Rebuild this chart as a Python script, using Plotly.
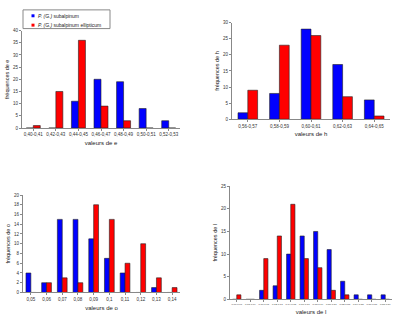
import plotly.graph_objects as go

# Chart e
cat_e = ["0,40-0,41","0,42-0,43","0,44-0,45","0,46-0,47","0,48-0,49","0,50-0,51","0,52-0,53"]
sub_e = [0, 0, 11, 20, 19, 8, 3]
ell_e = [1, 15, 36, 9, 3, 0, 0]
# Chart h
cat_h = ["0,56-0,57","0,58-0,59","0,60-0,61","0,62-0,63","0,64-0,65"]
sub_h = [2, 8, 28, 17, 6]
ell_h = [9, 23, 26, 7, 1]
# Chart o
cat_o = ["0,05","0,06","0,07","0,08","0,09","0,1","0,11","0,12","0,13","0,14"]
sub_o = [4, 2, 15, 15, 11, 7, 4, 0, 1, 0]
ell_o = [0, 2, 3, 2, 18, 15, 6, 10, 3, 1]
# Chart l
cat_l = ["0,66-0,67","0,68-0,69","0,70-0,71","0,72-0,73","0,74-0,75","0,76-0,77",
         "0,78-0,79","0,80-0,81","0,82-0,83","0,84-0,85","0,86-0,87","0,88-0,89"]
sub_l = [0, 0, 2, 3, 10, 14, 15, 11, 4, 1, 1, 1]
ell_l = [1, 0, 9, 14, 21, 9, 7, 2, 1, 0, 0, 0]

name_sub = "<i>P. (G.)</i> subalpinum"
name_ell = "<i>P. (G.)</i> subalpinum ellipticum"
BLUE = "#0000FF"
RED = "#FF0000"

charts = [
    (cat_e, sub_e, ell_e, "e", 40, 5, [0.055, 0.45], [0.6086, 0.9113], 4.5),
    (cat_h, sub_h, ell_h, "h", 30, 5, [0.58, 0.975], [0.636, 0.9358], 4.5),
    (cat_o, sub_o, ell_o, "o", 20, 2, [0.0575, 0.45], [0.0979, 0.4006], 4.5),
    (cat_l, sub_l, ell_l, "l", 25, 5, [0.575, 0.98], [0.0765, 0.428], 2.5),
]

fig = go.Figure()
layout = {}
for i, (cats, s, e, var, ymax, dt, xd, yd, tfs) in enumerate(charts):
    n = "" if i == 0 else str(i + 1)
    fig.add_trace(go.Bar(x=cats, y=s, name=name_sub, marker=dict(color=BLUE, line=dict(color="#222222", width=0.6)),
                         xaxis="x" + n, yaxis="y" + n, showlegend=False))
    fig.add_trace(go.Bar(x=cats, y=e, name=name_ell, marker=dict(color=RED, line=dict(color="#222222", width=0.6)),
                         xaxis="x" + n, yaxis="y" + n, showlegend=False))
    layout["xaxis" + n] = dict(domain=xd, anchor="y" + n, showline=True, linecolor="#888888", linewidth=1,
                              ticks="outside", ticklen=2, tickcolor="#888888",
                              tickmode="array", tickvals=cats, ticktext=cats,
                              tickfont=dict(size=tfs, color="#333333"),
                              title=dict(text="valeurs de " + var, font=dict(size=6, color="#222222"), standoff=4),
                              showgrid=False, tickangle=0, fixedrange=True)
    layout["yaxis" + n] = dict(domain=yd, anchor="x" + n, range=[0, ymax], dtick=dt, showline=True,
                              linecolor="#888888", linewidth=1, ticks="outside", ticklen=2, tickcolor="#888888",
                              tickfont=dict(size=4.5, color="#333333"),
                              title=dict(text="fréquences de " + var, font=dict(size=5.5, color="#222222"), standoff=3),
                              showgrid=False, zeroline=False, fixedrange=True)

fig.update_layout(**layout)

# Custom compact legend for the first chart
W, H = 400.0, 327.0
def px(x): return x / W
def py(y): return 1 - y / H
shapes = [dict(type="rect", xref="paper", yref="paper", x0=px(23), x1=px(110), y0=py(27), y1=py(8),
               line=dict(color="#888888", width=1), fillcolor="white", layer="above")]
annotations = []
for k, (nm, col) in enumerate([(name_sub, BLUE), (name_ell, RED)]):
    yc = 14 + k * 9.5
    shapes.append(dict(type="rect", xref="paper", yref="paper", x0=px(31.5), x1=px(34.5),
                       y0=py(yc + 1.5), y1=py(yc - 1.5), line=dict(width=0), fillcolor=col, layer="above"))
    annotations.append(dict(text=nm, xref="paper", yref="paper", x=px(36), y=py(yc), xanchor="left",
                            yanchor="middle", showarrow=False, font=dict(size=5, color="#222222")))

fig.update_layout(
    width=400, height=327,
    margin=dict(l=0, r=0, t=0, b=0),
    paper_bgcolor="white", plot_bgcolor="white",
    barmode="group", bargap=0.38, bargroupgap=0.0,
    font=dict(family="Arial, Liberation Sans, sans-serif"),
    showlegend=False,
    shapes=shapes, annotations=annotations,
)
fig.write_html("out.html")
